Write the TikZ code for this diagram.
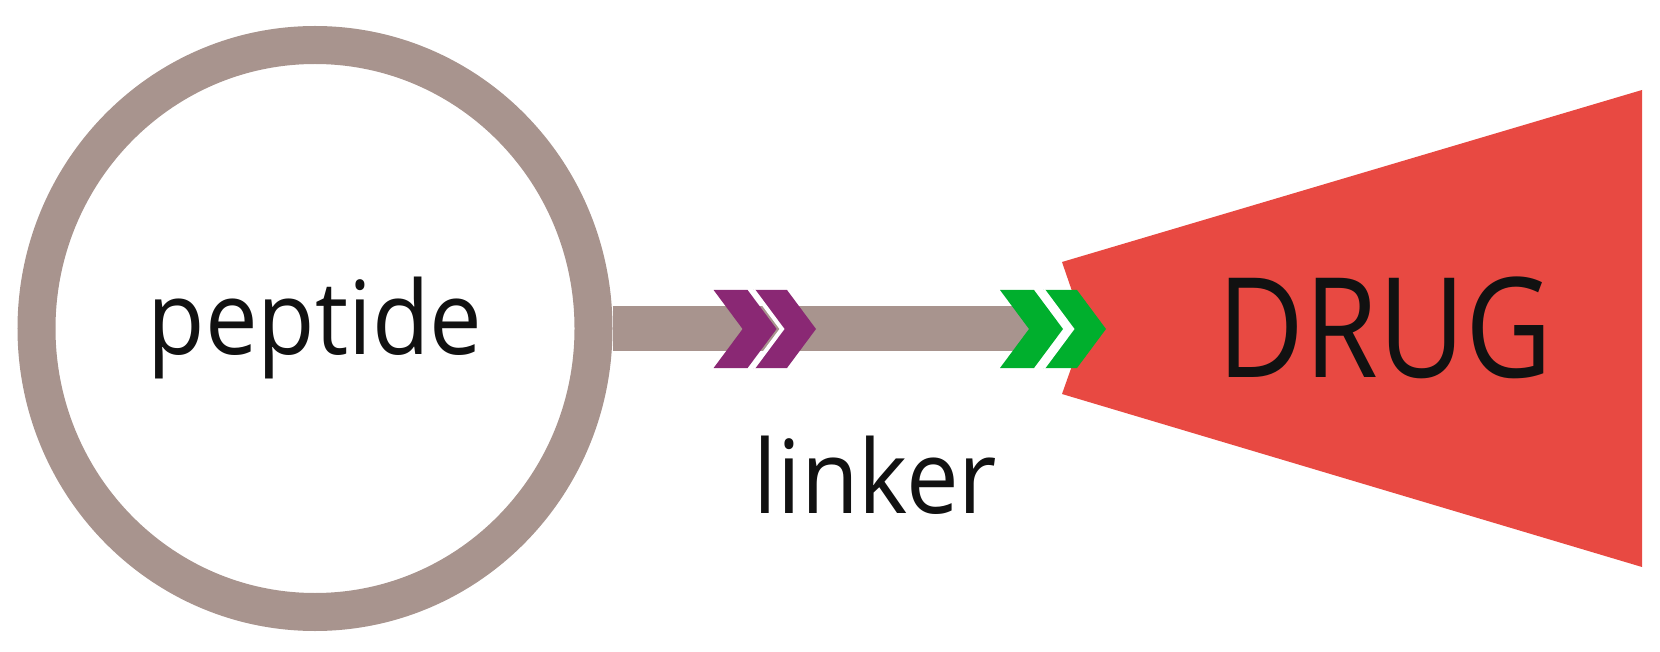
\documentclass[tikz,border=0pt]{standalone}
\usepackage{fontspec}
\setmainfont{Open Sans}
\newfontfamily\labfont[FakeStretch=0.92]{Open Sans}
\newfontfamily\drugfont[FakeStretch=0.86]{Open Sans}
\usetikzlibrary{shapes.geometric}
\definecolor{ringgrey}{HTML}{A8948E}
\definecolor{chevpurple}{HTML}{8A2874}
\definecolor{chevgreen}{HTML}{00AF2D}
\definecolor{drugred}{HTML}{E84942}
\definecolor{inkblack}{HTML}{111111}
\newcommand{\chevshape}[2]{%
  \fill[#2] (#1,290) -- ++(34,0) -- ++(29,39) -- ++(-29,39) -- ++(-34,0) -- ++(29,-39) -- cycle;}
\newcommand{\chevgap}[1]{%
  \draw[white, line width=4pt, line join=miter] (#1,290) -- ++(29,39) -- ++(-29,39);}
\tikzset{
  ringstyle/.style={ellipse, draw=ringgrey, line width=38pt, inner sep=0pt,
    minimum width=557pt, minimum height=567pt},
  labtext/.style={text=inkblack, font=\labfont\fontsize{102}{110}\selectfont, inner sep=0pt},
  drugtext/.style={text=inkblack, font=\drugfont\fontsize{139}{150}\selectfont, inner sep=0pt},
  barstyle/.style={draw=ringgrey, line width=45pt}
}
\begin{document}
\begin{tikzpicture}[x=1pt,y=-1pt]
\useasboundingbox (0,0) rectangle (1660,652);
% peptide ring
\node[ringstyle, labtext] (pep) at (315,328.5) {peptide};
% linker bar
\coordinate (gnotch) at (1031,328);
\draw[barstyle] (pep.east) -- (gnotch |- pep.east);
% drug wedge
\fill[drugred] (1062,262) -- (1642,90) -- (1642,567) -- (1062,394) -- (1085,329) -- cycle;
% purple chevrons
\chevshape{713.6}{chevpurple}
\chevshape{753}{chevpurple}
\chevgap{753}
% green chevrons
\chevshape{1000}{chevgreen}
\chevshape{1043}{chevgreen}
\chevgap{1043}
% labels
\node[labtext, anchor=base] (lnk) at (875.5,513) {linker};
\node[drugtext, anchor=base] (drug) at (1385,377) {DRUG};
\end{tikzpicture}
\end{document}
